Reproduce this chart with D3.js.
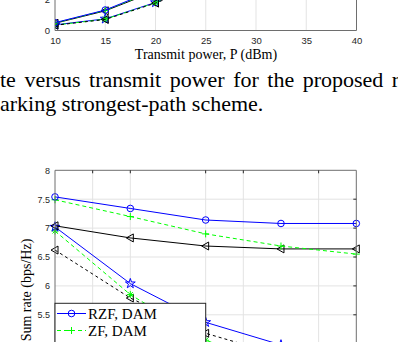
<!DOCTYPE html>
<html>
<head>
<meta charset="utf-8">
<script src="https://cdn.jsdelivr.net/npm/d3@7"></script>
<style>
  body { margin: 0; background: #fff; }
  svg { display: block; }
</style>
</head>
<body>
<div id="page"></div>
<script>
// ---- dados do gráfico de cima (só a parte de baixo aparece) ----
const topPower = [10, 15, 20, 25, 30, 35, 40];
const topXTicks = [10, 15, 20, 25, 30, 35, 40];
const topYTicks = [0, 2];
const topRzfDam = [0.50, 1.30, 2.60, 4.2, 6.0, 8.0, 10.0];
const topZfDam  = [0.48, 1.28, 2.55, 4.1, 5.9, 7.9, 9.9];
const topMrtDam = [0.46, 1.25, 2.50, 4.0, 5.8, 7.7, 9.7];
const topRzfSp  = [0.36, 0.74, 1.78, 3.2, 5.0, 7.0, 9.0];
const topZfSp   = [0.34, 0.72, 1.76, 3.1, 4.9, 6.9, 8.9];
const topMrtSp  = [0.33, 0.70, 1.74, 3.0, 4.8, 6.8, 8.8];

// ---- dados do gráfico de baixo ----
const botX = [0, 2, 4, 6, 8];
const botGridX = [1, 2, 4, 5, 7];
const botYTicks = [5.5, 6, 6.5, 7, 7.5, 8];
const rzfDam = [7.54, 7.34, 7.14, 7.08, 7.08];
const zfDam  = [7.49, 7.20, 6.90, 6.69, 6.55];
const mrtDam = [7.04, 6.83, 6.69, 6.64, 6.64];
const rzfSp  = [7.02, 6.04, 5.37, 4.98, 4.70];
const zfSp   = [6.95, 5.85, 5.06, 4.60, 4.30];
const mrtSp  = [6.62, 5.79, 5.18, 4.80, 4.50];
const legendNames = ["RZF, DAM", "ZF, DAM", "MRT, DAM"];

const W = 398, H = 342;
const axisCol = "#262626", gridCol = "#e3e3e3";
const sans = "'Liberation Sans', Arial, sans-serif";
const serif = "'Liberation Serif', 'Times New Roman', serif";
const fmt = d => String(d);

const svg = d3.select("#page").append("svg")
  .attr("width", W).attr("height", H);
svg.append("rect").attr("width", W).attr("height", H).attr("fill", "#fff");

// marcadores no estilo do MATLAB
function drawMarker(g, kind, cx, cy, color) {
  if (kind === "circle") {
    g.append("circle").attr("cx", cx).attr("cy", cy).attr("r", 3.3)
      .attr("fill", "none").attr("stroke", color).attr("stroke-width", 1);
  } else if (kind === "plus") {
    g.append("path").attr("d", `M${cx-3.5},${cy}H${cx+3.5}M${cx},${cy-3.5}V${cy+3.5}`)
      .attr("stroke", color).attr("stroke-width", 1);
  } else if (kind === "tri") {
    g.append("path").attr("d", `M${cx-4},${cy}L${cx+3},${cy-4}L${cx+3},${cy+4}Z`)
      .attr("fill", "none").attr("stroke", color).attr("stroke-width", 1);
  } else if (kind === "star") {
    g.append("path").attr("transform", `translate(${cx},${cy})`)
      .attr("d", d3.symbol(d3.symbolStar, 30)())
      .attr("fill", "none").attr("stroke", color).attr("stroke-width", 1);
  } else if (kind === "ast") {
    let s = 3.5, d = 2.5;
    g.append("path").attr("d", `M${cx-s},${cy}H${cx+s}M${cx},${cy-s}V${cy+s}M${cx-d},${cy-d}L${cx+d},${cy+d}M${cx-d},${cy+d}L${cx+d},${cy-d}`)
      .attr("stroke", color).attr("stroke-width", 1);
  }
}

function drawSeries(g, xs, ys, x, y, color, dash, kind) {
  const line = d3.line().x((d, i) => x(xs[i])).y(d => y(d));
  g.append("path").datum(ys).attr("d", line)
    .attr("fill", "none").attr("stroke", color).attr("stroke-width", 1)
    .attr("stroke-dasharray", dash);
  ys.forEach((v, i) => drawMarker(g, kind, x(xs[i]), y(v), color));
}

// ================= gráfico de cima =================
const xT = d3.scaleLinear().domain([10, 40]).range([55, 356.5]);
const yT = d3.scaleLinear().domain([0, 2]).range([30.5, -1]);

const gT = svg.append("g");
gT.selectAll(".vg").data(topXTicks.slice(1, -1)).join("line")
  .attr("x1", d => xT(d)).attr("x2", d => xT(d))
  .attr("y1", yT(0)).attr("y2", -5)
  .attr("stroke", gridCol).attr("stroke-width", 1);

gT.append("defs").append("clipPath").attr("id", "clipT")
  .append("rect").attr("x", 55).attr("y", -50).attr("width", 301.5).attr("height", 80.5);
const pT = gT.append("g").attr("clip-path", "url(#clipT)");
drawSeries(pT, topPower, topRzfSp, xT, yT, "blue", null, "star");
drawSeries(pT, topPower, topZfSp, xT, yT, "#00ff00", "4,3", "ast");
drawSeries(pT, topPower, topMrtSp, xT, yT, "black", "3,3", "tri");
drawSeries(pT, topPower, topMrtDam, xT, yT, "black", null, "tri");
drawSeries(pT, topPower, topZfDam, xT, yT, "#00ff00", "4,3", "plus");
drawSeries(pT, topPower, topRzfDam, xT, yT, "blue", null, "circle");

// caixa dos eixos
gT.append("path").attr("d", `M55,-5V${yT(0)}H356.5V-5`)
  .attr("fill", "none").attr("stroke", "#6e6e6e").attr("stroke-width", 1);

const xAxT = d3.axisBottom(xT).tickValues(topXTicks).tickFormat(fmt).tickSize(0).tickPadding(7);
gT.append("g").attr("transform", `translate(0,${yT(0)})`).call(xAxT)
  .call(g => g.select(".domain").remove())
  .selectAll("text").attr("font-family", sans).attr("font-size", 9.5).attr("fill", axisCol);
const yAxT = d3.axisLeft(yT).tickValues(topYTicks).tickFormat(fmt).tickSize(0).tickPadding(5);
gT.append("g").attr("transform", "translate(55,0)").call(yAxT)
  .call(g => g.select(".domain").remove())
  .selectAll("text").attr("font-family", sans).attr("font-size", 9.5).attr("fill", axisCol);

gT.append("text").attr("x", 206).attr("y", 59).attr("text-anchor", "middle")
  .attr("font-family", serif).attr("font-size", 14).attr("fill", "#000")
  .text("Transmit power, P (dBm)");

// ================= legenda da figura =================
svg.append("text").attr("x", 0).attr("y", 87)
  .attr("font-family", serif).attr("font-size", 22).attr("fill", "#000")
  .attr("word-spacing", 3)
  .text("te versus transmit power for the proposed r");
svg.append("text").attr("x", 0).attr("y", 111)
  .attr("font-family", serif).attr("font-size", 22).attr("fill", "#000")
  .text("arking strongest-path scheme.");

// ================= gráfico de baixo =================
const x = d3.scaleLinear().domain([0, 8]).range([55, 356.3]);
const y = d3.scaleLinear().domain([3, 8]).range([459.3, 170.3]);

const g = svg.append("g");
g.selectAll(".vg").data(botGridX).join("line")
  .attr("x1", d => x(d)).attr("x2", d => x(d))
  .attr("y1", y(8)).attr("y2", H + 10)
  .attr("stroke", gridCol).attr("stroke-width", 1);
g.selectAll(".hg").data(botYTicks.slice(0, -1)).join("line")
  .attr("x1", x(0)).attr("x2", x(8))
  .attr("y1", d => y(d)).attr("y2", d => y(d))
  .attr("stroke", gridCol).attr("stroke-width", 1);

g.append("defs").append("clipPath").attr("id", "clipB")
  .append("rect").attr("x", 50).attr("y", y(8) - 5).attr("width", 312).attr("height", 300);
const p = g.append("g").attr("clip-path", "url(#clipB)");
drawSeries(p, botX, mrtSp, x, y, "black", "3,3", "tri");
drawSeries(p, botX, zfSp, x, y, "#00ff00", "4,3", "ast");
drawSeries(p, botX, rzfSp, x, y, "blue", null, "star");
drawSeries(p, botX, mrtDam, x, y, "black", null, "tri");
drawSeries(p, botX, zfDam, x, y, "#00ff00", "4,3", "plus");
drawSeries(p, botX, rzfDam, x, y, "blue", null, "circle");

// caixa dos eixos
g.append("path").attr("d", `M${x(0)},${H + 10}V${y(8)}H${x(8)}V${H + 10}`)
  .attr("fill", "none").attr("stroke", "#6e6e6e").attr("stroke-width", 1);
// marcas dos ticks (para dentro, como no MATLAB)
g.selectAll(".tt").data(botGridX).join("line")
  .attr("x1", d => x(d)).attr("x2", d => x(d))
  .attr("y1", y(8)).attr("y2", y(8) + 3)
  .attr("stroke", axisCol).attr("stroke-width", 1);
g.selectAll(".tr").data(botYTicks.slice(0, -1)).join("line")
  .attr("x1", x(8) - 3).attr("x2", x(8))
  .attr("y1", d => y(d)).attr("y2", d => y(d))
  .attr("stroke", axisCol).attr("stroke-width", 1);

const yAx = d3.axisLeft(y).tickValues(botYTicks).tickFormat(fmt).tickSize(0).tickPadding(5);
g.append("g").attr("transform", `translate(${x(0)},0)`).call(yAx)
  .call(gg => gg.select(".domain").remove())
  .selectAll("text").attr("font-family", sans).attr("font-size", 9).attr("fill", axisCol);

g.append("text")
  .attr("transform", `translate(31,290) rotate(-90)`)
  .attr("text-anchor", "middle")
  .attr("font-family", serif).attr("font-size", 14).attr("fill", "#000")
  .text("Sum rate (bps/Hz)");

// caixa da legenda
const leg = g.append("g");
leg.append("rect").attr("x", 55).attr("y", 303.3).attr("width", 150.7).attr("height", 60)
  .attr("fill", "#fff").attr("stroke", axisCol).attr("stroke-width", 1);
const legStyle = [
  {color: "blue", dash: null, kind: "circle"},
  {color: "#00ff00", dash: "4,3", kind: "plus"},
  {color: "black", dash: null, kind: "tri"}
];
legendNames.forEach((name, i) => {
  const cy = 313.5 + i * 17;
  const s = legStyle[i];
  leg.append("line").attr("x1", 57).attr("x2", 86).attr("y1", cy).attr("y2", cy)
    .attr("stroke", s.color).attr("stroke-width", 1).attr("stroke-dasharray", s.dash);
  drawMarker(leg, s.kind, 71.5, cy, s.color);
  leg.append("text").attr("x", 88).attr("y", cy + 5)
    .attr("font-family", serif).attr("font-size", 15).attr("fill", "#000")
    .text(name);
});
</script>
</body>
</html>
